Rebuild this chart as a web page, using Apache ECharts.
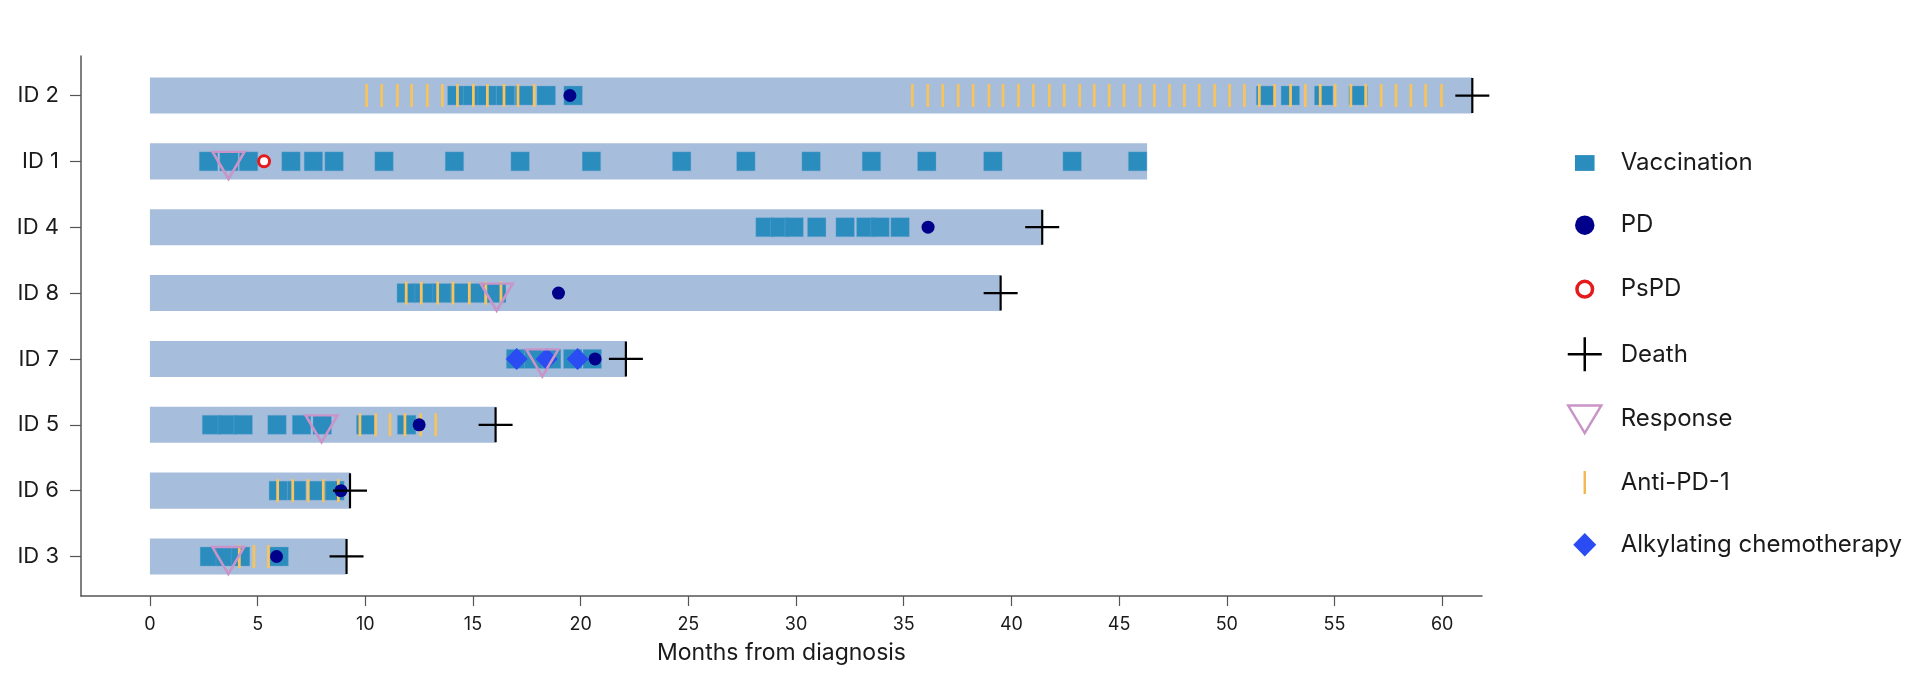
<!DOCTYPE html>
<html lang="en">
<head>
    <meta charset="UTF-8">
    <title>Treatment timeline</title>
    <script src="https://cdn.jsdelivr.net/npm/echarts@6.0.0/dist/echarts.min.js"></script>
    <style>
        html, body { margin: 0; padding: 0; background: #fff; }
        #main { width: 1920px; height: 674px; }
    </style>
</head>
<body>
<div id="main"></div>
<script>
// patients from top to bottom
var patients = ['ID 2', 'ID 1', 'ID 4', 'ID 8', 'ID 7', 'ID 5', 'ID 6', 'ID 3'];
// months of follow-up (length of the grey bar)
var followUp = [61.4, 46.3, 41.4, 39.5, 22.1, 16.05, 9.3, 9.13];

var vaccination = [
    [14.25, 14.99, 15.66, 16.51, 17.39, 18.4, 19.65, 51.8, 52.95, 54.5, 56.1],
    [2.72, 3.67, 4.58, 6.55, 7.59, 8.55, 10.87, 14.14, 17.19, 20.5, 24.69, 27.67, 30.7, 33.5, 36.07, 39.14, 42.82, 45.86],
    [28.56, 29.24, 29.91, 30.96, 32.28, 33.24, 33.9, 34.83],
    [11.9, 12.73, 13.56, 14.4, 15.28, 16.1],
    [16.98, 17.82, 18.65, 19.63, 20.54],
    [2.86, 3.59, 4.33, 5.9, 7.04, 8.0, 10.02, 11.92],
    [5.96, 6.81, 7.74, 8.59],
    [2.76, 3.5, 4.21, 6.0]
];

var antiPD1 = [
    [10.06, 10.76, 11.49, 12.15, 12.88, 13.58, 14.28, 15.02, 15.67, 16.44, 17.09, 17.84,
     35.4, 36.12, 36.81, 37.53, 38.22, 38.96, 39.61, 40.33, 41.02, 41.76, 42.45, 43.17,
     43.85, 44.54, 45.23, 45.97, 46.64, 47.34, 48.03, 48.72, 49.44, 50.13, 50.82, 51.51,
     52.22, 52.96, 53.65, 54.34, 55.03, 55.76, 56.45, 57.17, 57.86, 58.55, 59.23, 59.97],
    [],
    [],
    [11.9, 12.6, 13.36, 14.07, 14.83, 15.59, 16.3],
    [],
    [9.75, 10.48, 11.15, 11.84, 12.57, 13.27],
    [5.93, 6.63, 7.35, 8.05, 8.75],
    [4.15, 4.83, 5.5]
];

var alkylating = [[], [], [], [], [17.03, 18.42, 19.86], [], [], []];
var pd = [19.5, null, 36.13, 18.97, 20.67, 12.5, 8.87, 5.88];
var pspd = [null, 5.3, null, null, null, null, null, null];
var response = [null, 3.65, null, 16.1, 18.22, 7.97, null, 3.64];
var death = [61.4, null, 41.43, 39.5, 22.1, 16.05, 9.29, 9.13];

var xTicks = [0, 5, 10, 15, 20, 25, 30, 35, 40, 45, 50, 55, 60];
var rowTicks = [0, 1, 2, 3, 4, 5, 6, 7];

var font = 'Inter, "Noto Sans", sans-serif';
var textColor = '#1a1a1a';
var axisColor = '#555';

function rowOf(i) {
    return patients.length - 1 - i;
}
function fromLists(lists) {
    var out = [];
    for (var i = 0; i < lists.length; i++) {
        for (var j = 0; j < lists[i].length; j++) {
            out.push([lists[i][j], rowOf(i)]);
        }
    }
    return out;
}
function fromSingles(vals) {
    var out = [];
    for (var i = 0; i < vals.length; i++) {
        if (vals[i] !== null) out.push([vals[i], rowOf(i)]);
    }
    return out;
}

var barData = [];
for (var i = 0; i < patients.length; i++) {
    barData.push([followUp[i], rowOf(i)]);
}

option = {
    animation: false,
    textStyle: { fontFamily: font },
    grid: {
        left: 81, right: 438, top: 56, bottom: 78,
        containLabel: false,
        outerBoundsMode: 'none'
    },
    xAxis: {
        type: 'value',
        min: -3.2,
        max: 61.85,
        name: 'Months from diagnosis',
        nameLocation: 'middle',
        nameGap: 46,
        nameTextStyle: { fontSize: 23, color: textColor, fontFamily: font },
        axisLine: { show: true, onZero: false, lineStyle: { color: axisColor, width: 1.5 } },
        axisTick: { show: true, customValues: xTicks, length: 10, lineStyle: { color: axisColor, width: 1.2 } },
        axisLabel: { customValues: xTicks, fontSize: 18, margin: 20, color: textColor, fontFamily: font },
        splitLine: { show: false }
    },
    yAxis: {
        type: 'value',
        min: -0.6,
        max: 7.6,
        axisLine: { show: true, onZero: false, lineStyle: { color: axisColor, width: 1.5 } },
        axisTick: { show: true, customValues: rowTicks, length: 11, lineStyle: { color: axisColor, width: 1.2 } },
        axisLabel: {
            customValues: rowTicks,
            fontSize: 22,
            margin: 22,
            color: textColor,
            fontFamily: font,
            formatter: function (v) { return patients[patients.length - 1 - Math.round(v)]; }
        },
        splitLine: { show: false }
    },
    legend: {
        orient: 'vertical',
        left: 1565,
        top: 145,
        padding: 0,
        itemWidth: 36,
        itemHeight: 36,
        itemGap: 26.2,
        selectedMode: false,
        textStyle: { fontSize: 24, color: textColor, fontFamily: font, padding: [0, 0, 0, 13] },
        data: [
            { name: 'Vaccination', icon: 'path://M0 0M36 36M8.2 10.1h19.6v15.8h-19.6z',
              itemStyle: { color: '#2b8cbe', borderWidth: 0 } },
            { name: 'PD', icon: 'path://M0 0M36 36M8.3 18a9.7 9.7 0 1 0 19.4 0a9.7 9.7 0 1 0 -19.4 0z',
              itemStyle: { color: '#00008b', borderWidth: 0 } },
            { name: 'PsPD', icon: 'path://M0 0M36 36M10.2 18a7.8 7.8 0 1 0 15.6 0a7.8 7.8 0 1 0 -15.6 0z',
              itemStyle: { color: '#ffffff', borderColor: '#e41a1c', borderWidth: 3.5 } },
            { name: 'Death', icon: 'path://M0 0M36 36M1 18H35M18 1V35',
              itemStyle: { color: 'transparent', borderColor: '#000000', borderWidth: 2.5 } },
            { name: 'Response', icon: 'path://M0 0M36 36M1.5 4.5H34.5L18 32Z',
              itemStyle: { color: '#ffffff', borderColor: '#c994c7', borderWidth: 2.5 } },
            { name: 'Anti-PD-1', icon: 'path://M0 0M36 36M16.8 6.5h2.4v23h-2.4z',
              itemStyle: { color: '#f2b84f', borderWidth: 0 } },
            { name: 'Alkylating chemotherapy', icon: 'path://M0 0M36 36M18 6.3L29.5 18L18 29.7L6.5 18Z',
              itemStyle: { color: '#2a4cf2', borderWidth: 0 } }
        ]
    },
    series: [
        {
            name: 'Follow-up',
            type: 'custom',
            silent: true,
            data: barData,
            encode: { x: 0, y: 1 },
            renderItem: function (params, api) {
                var start = api.coord([0, api.value(1)]);
                var end = api.coord([api.value(0), api.value(1)]);
                var h = api.size([0, 0.547])[1];
                return {
                    type: 'rect',
                    shape: { x: start[0], y: start[1] - h / 2, width: end[0] - start[0], height: h },
                    style: { fill: '#a6bddb' }
                };
            }
        },
        {
            name: 'Vaccination',
            type: 'scatter',
            silent: true,
            symbol: 'rect',
            symbolSize: [18.5, 19],
            itemStyle: { color: '#2b8cbe', borderColor: 'rgba(120,170,215,0.6)', borderWidth: 0.6, opacity: 1 },
            data: fromLists(vaccination)
        },
        {
            name: 'Anti-PD-1',
            type: 'scatter',
            silent: true,
            symbol: 'rect',
            symbolSize: [2.8, 23],
            itemStyle: { color: '#f6c35f', opacity: 1 },
            data: fromLists(antiPD1)
        },
        {
            name: 'Alkylating chemotherapy',
            type: 'scatter',
            silent: true,
            symbol: 'diamond',
            symbolSize: [22, 22],
            itemStyle: { color: '#2a4cf2', opacity: 1 },
            data: fromLists(alkylating)
        },
        {
            name: 'PD',
            type: 'scatter',
            silent: true,
            symbol: 'circle',
            symbolSize: 13,
            itemStyle: { color: '#00008b', opacity: 1 },
            data: fromSingles(pd)
        },
        {
            name: 'PsPD',
            type: 'scatter',
            silent: true,
            symbol: 'circle',
            symbolSize: 11,
            itemStyle: { color: '#ffffff', borderColor: '#e41a1c', borderWidth: 3, opacity: 1 },
            data: fromSingles(pspd)
        },
        {
            name: 'Response',
            type: 'scatter',
            silent: true,
            symbol: 'path://M0 0H32L16 27Z',
            symbolSize: [32, 27],
            symbolOffset: [0, 4],
            itemStyle: { color: 'transparent', borderColor: '#c994c7', borderWidth: 2.5, opacity: 1 },
            data: fromSingles(response)
        },
        {
            name: 'Death',
            type: 'scatter',
            silent: true,
            symbol: 'path://M0 17H34M17 0V34',
            symbolSize: [34, 35],
            itemStyle: { color: 'transparent', borderColor: '#000000', borderWidth: 2.2, opacity: 1 },
            data: fromSingles(death)
        }
    ]
};

var myChart = echarts.init(document.getElementById('main'));
myChart.setOption(option);
</script>
</body>
</html>
